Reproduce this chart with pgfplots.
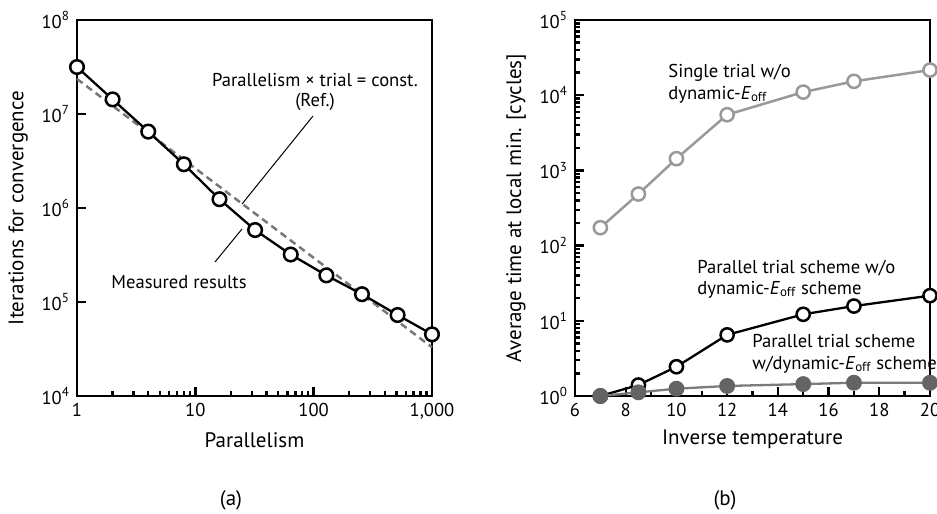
\documentclass[border=0pt]{standalone}
\usepackage{pgfplots}
\pgfplotsset{compat=1.18}
\usepackage{fontspec}
\setmainfont{PT Sans}

\definecolor{refgray}{HTML}{777777}
\definecolor{single}{HTML}{999999}
\definecolor{dyn}{HTML}{646464}

\newcommand{\Eoff}{\textit{E}\textsubscript{off}}

\pgfplotsset{
  panel/.style={
    scale only axis, width=177.5pt, height=188pt,
    axis line style={line width=1.4pt},
    tick align=inside, xtick pos=left, ytick pos=left,
    major tick length=4.5pt, minor tick length=2.6pt,
    every tick/.style={black, line width=1.2pt},
    tick label style={font=\fontsize{9.3}{10}\selectfont},
    label style={font=\fontsize{10.5}{12}\selectfont},
    clip=false,
  },
}

\begin{document}
\begin{tikzpicture}
\path[use as bounding box, x=0.5pt, y=-0.5pt] (0,0) rectangle (937,514);

% (a) iterations vs parallelism
\begin{axis}[panel, at={(38.5pt,-198pt)}, anchor=south west,
    xmode=log, ymode=log,
    xmin=1, xmax=1000, ymin=1e4, ymax=1e8,
    xtick={1,10,100,1000}, xticklabels={1,10,100,{1,000}},
    ytick={1e4,1e5,1e6,1e7,1e8},
    yticklabels={10\textsuperscript{4},10\textsuperscript{5},10\textsuperscript{6},10\textsuperscript{7},10\textsuperscript{8}},
    yminorticks=false,
    xlabel={Parallelism}, ylabel={Iterations for convergence}]
\addplot[refgray, line width=1.25pt, dash pattern=on 3.5pt off 2.3pt] coordinates {(1,2.36e7) (1000,3.3e4)};
\addplot[black, line width=1.15pt, mark=*, mark size=3.4pt, mark options={fill=white, line width=1.25pt}] coordinates {
 (1,3.16e7) (2,1.43e7) (4,6.5e6) (8,2.92e6) (16,1.24e6) (32,5.83e5)
 (64,3.2e5) (128,1.92e5) (256,1.21e5) (512,7.27e4) (1000,4.53e4)};
\end{axis}

% (b) average time vs inverse temperature
\begin{axis}[panel, at={(287.5pt,-198pt)}, anchor=south west,
    ymode=log,
    xmin=6, xmax=20, ymin=1, ymax=1e5,
    xtick={6,8,10,12,14,16,18,20}, xticklabels={6,8,10,12,14,16,18,20},
    minor x tick num=1,
    ytick={1,10,100,1000,1e4,1e5},
    yticklabels={10\textsuperscript{0},10\textsuperscript{1},10\textsuperscript{2},10\textsuperscript{3},10\textsuperscript{4},10\textsuperscript{5}},
    yminorticks=true,
    xlabel={Inverse temperature}, ylabel={Average time at local min. [cycles]}]
\addplot[single, line width=1.25pt, mark=*, mark size=3.3pt, mark options={fill=white, line width=1.25pt}] coordinates {
 (7,173) (8.5,485) (10,1432) (12,5500) (15,1.1e4) (17,1.53e4) (20,2.16e4)};
\addplot[black, line width=1.15pt, mark=*, mark size=3.3pt, mark options={fill=white, line width=1.25pt}] coordinates {
 (7,1.0) (8.5,1.4) (10,2.45) (12,6.5) (15,12.2) (17,15.7) (20,21.6)};
\addplot[dyn!85, line width=1.15pt, mark=*, mark size=3.4pt, mark options={fill=dyn, draw=dyn}] coordinates {
 (7,1.0) (8.5,1.12) (10,1.25) (12,1.36) (15,1.44) (17,1.5) (20,1.5)};
\end{axis}

\begin{scope}[x=0.5pt, y=-0.5pt, font=\fontsize{9.3}{11}\selectfont, every node/.style={inner sep=0pt}]
\node[anchor=base] at (315,86) {Parallelism × trial = const.};
\node[anchor=base] at (315,106) {(Ref.)};
\draw[line width=0.5pt] (313,116) -- (242,204);
\node[anchor=base] at (179,288) {Measured results};
\draw[line width=0.5pt] (215,262) -- (242,229);

\node[anchor=base west] at (668,77) {Single trial w/o};
\node[anchor=base west] at (668,99) {dynamic-\Eoff};
\node[anchor=base west] at (697,273) {Parallel trial scheme w/o};
\node[anchor=base west] at (697,294) {dynamic-\Eoff{} scheme};
\node[anchor=base west] at (752,347) {Parallel trial scheme};
\node[anchor=base west] at (752,369) {w/dynamic-\Eoff{} scheme};

\node[font=\fontsize{10.5}{12}\selectfont] at (231,500) {(a)};
\node[font=\fontsize{10.5}{12}\selectfont] at (725,500) {(b)};
\end{scope}
\end{tikzpicture}
\end{document}
